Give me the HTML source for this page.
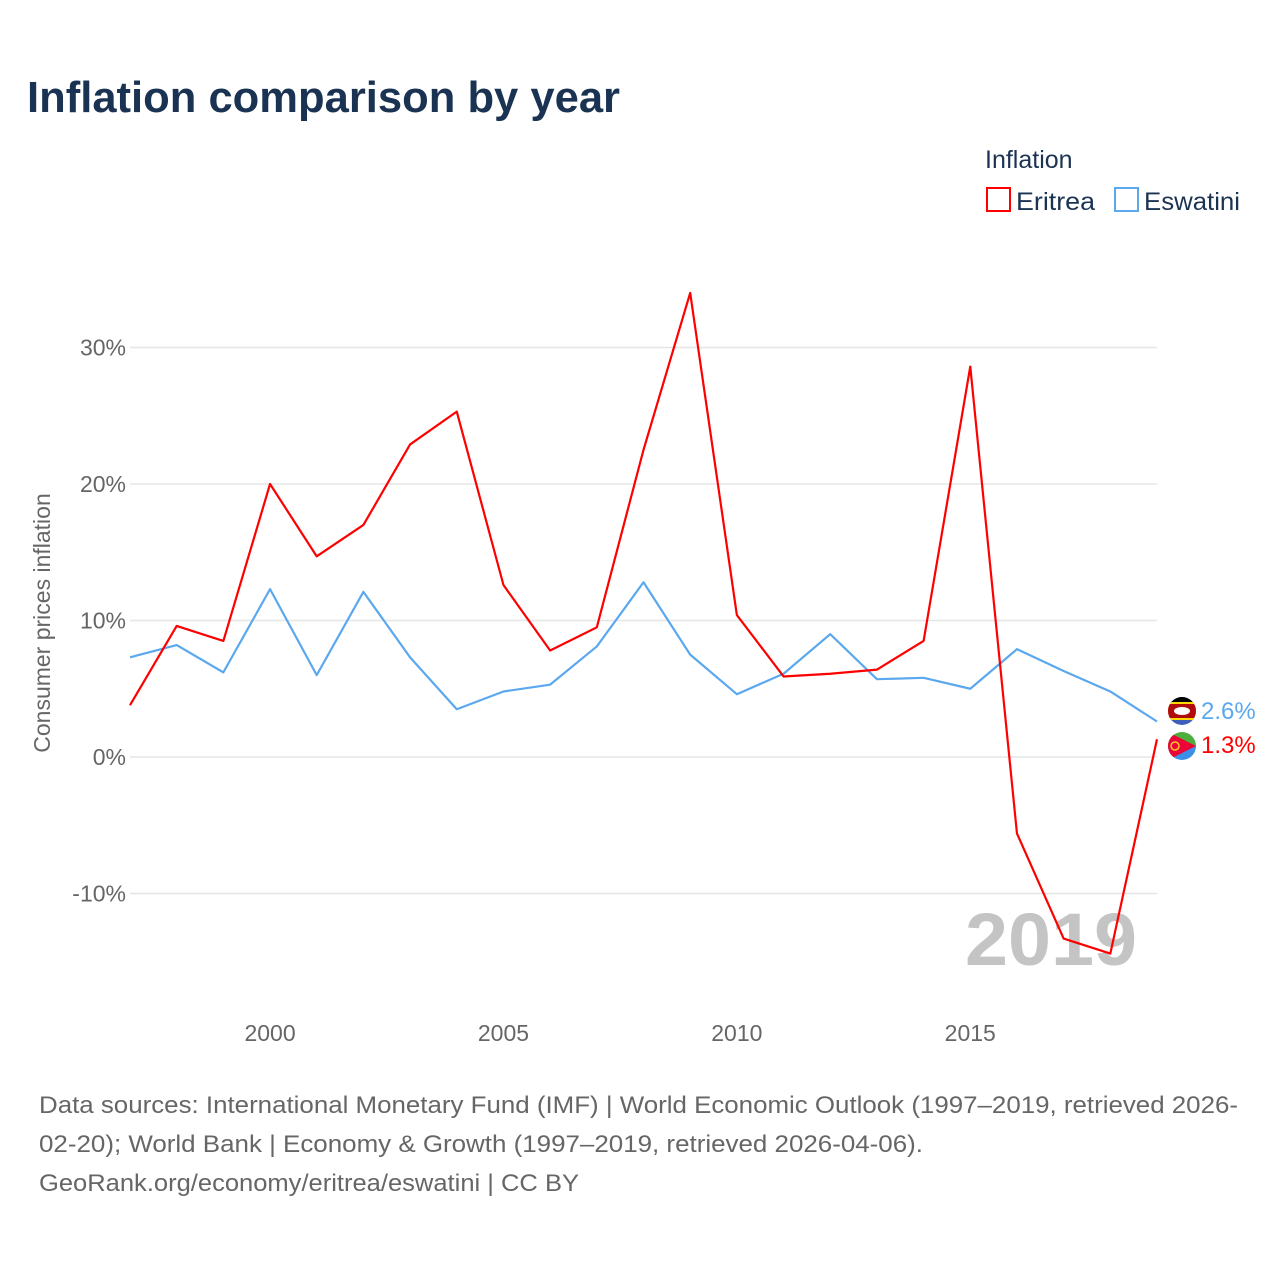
<!DOCTYPE html>
<html><head><meta charset="utf-8">
<style>
body{margin:0;background:#fff;font-family:"Liberation Sans",sans-serif;}
svg text{font-family:"Liberation Sans",sans-serif;}
</style></head>
<body>
<svg width="1280" height="1280" viewBox="0 0 1280 1280" xmlns="http://www.w3.org/2000/svg">
<text x="27" y="112" font-size="44" font-weight="bold" fill="#1b3352" textLength="593" lengthAdjust="spacingAndGlyphs">Inflation comparison by year</text>
<text x="985" y="168" font-size="25" fill="#1b3352">Inflation</text>
<g>
<rect x="987" y="188" width="23" height="23" fill="none" stroke="#ff0000" stroke-width="2"/>
<text x="1016" y="210" font-size="25" fill="#1b3352" textLength="79" lengthAdjust="spacingAndGlyphs">Eritrea</text></g>
<g>
<rect x="1115" y="188" width="23" height="23" fill="none" stroke="#5ba8ee" stroke-width="2"/>
<text x="1144" y="210" font-size="25" fill="#1b3352" textLength="96" lengthAdjust="spacingAndGlyphs">Eswatini</text></g>
<g id="grid"></g>
<text x="1137" y="965" font-size="74" font-weight="bold" fill="#c4c4c4" text-anchor="end" textLength="172" lengthAdjust="spacingAndGlyphs">2019</text>
<g id="plot"></g>
<text transform="translate(50,623) rotate(-90)" font-size="23" fill="#666" text-anchor="middle">Consumer prices inflation</text>
<g>
<clipPath id="c1"><circle cx="1182" cy="711" r="14"/></clipPath>
<g clip-path="url(#c1)"><rect x="1168" y="697" width="28" height="28" fill="#3e5eb9"/><rect x="1168" y="702" width="28" height="18" fill="#ffd900"/><rect x="1168" y="704" width="28" height="14" fill="#b10c0c"/><ellipse cx="1182" cy="711" rx="8" ry="4" fill="#fff"/><rect x="1168" y="697" width="28" height="5" fill="#000"/></g></g>
<g>
<clipPath id="c2"><circle cx="1182" cy="746" r="14"/></clipPath>
<g clip-path="url(#c2)"><rect x="1168" y="732" width="28" height="14" fill="#4caf3c"/><rect x="1168" y="746" width="28" height="14" fill="#3a8fe8"/><polygon points="1168,732 1196,746 1168,760" fill="#ea0437"/><circle cx="1175" cy="746" r="4" fill="none" stroke="#ffc726" stroke-width="1.5"/></g></g>
<text x="1201" y="719" font-size="24" fill="#5ba8ee">2.6%</text>
<text x="1201" y="753" font-size="24" fill="#ff0000">1.3%</text>
<text font-size="24" fill="#666"><tspan x="39" y="1113" textLength="1199" lengthAdjust="spacingAndGlyphs">Data sources: International Monetary Fund (IMF) | World Economic Outlook (1997–2019, retrieved 2026-</tspan><tspan x="39" y="1152" textLength="884" lengthAdjust="spacingAndGlyphs">02-20); World Bank | Economy &amp; Growth (1997–2019, retrieved 2026-04-06).</tspan><tspan x="39" y="1191" textLength="540" lengthAdjust="spacingAndGlyphs">GeoRank.org/economy/eritrea/eswatini | CC BY</tspan></text>
</svg>
<script>
const years=[1997,1998,1999,2000,2001,2002,2003,2004,2005,2006,2007,2008,2009,2010,2011,2012,2013,2014,2015,2016,2017,2018,2019];
const eritrea=[3.8,9.6,8.5,20.0,14.7,17.0,22.9,25.3,12.6,7.8,9.5,22.5,34.0,10.4,5.9,6.1,6.4,8.5,28.6,-5.6,-13.3,-14.4,1.3];
const eswatini=[7.3,8.2,6.2,12.3,6.0,12.1,7.3,3.5,4.8,5.3,8.1,12.8,7.5,4.6,6.1,9.0,5.7,5.8,5.0,7.9,6.3,4.8,2.6];
const yTicks=[-10,0,10,20,30];
const xTicks=[2000,2005,2010,2015];
const NS='http://www.w3.org/2000/svg';
const x=v=>130+(v-1997)*(1157-130)/22;
const y=v=>757-v*13.65;
const grid=document.getElementById('grid'),plot=document.getElementById('plot');
yTicks.forEach(t=>{
 const l=document.createElementNS(NS,'line');
 l.setAttribute('x1',130);l.setAttribute('x2',1157);l.setAttribute('y1',y(t));l.setAttribute('y2',y(t));
 l.setAttribute('stroke','#e6e6e6');l.setAttribute('stroke-width','1.5');
 
 
 grid.appendChild(l);
 const tx=document.createElementNS(NS,'text');
 tx.setAttribute('x',126);tx.setAttribute('y',y(t)+8);tx.setAttribute('text-anchor','end');
 tx.setAttribute('font-size','23');tx.setAttribute('fill','#666');tx.textContent=t+'%';
 
 
 grid.appendChild(tx);
});
xTicks.forEach(t=>{
 const tx=document.createElementNS(NS,'text');
 tx.setAttribute('x',x(t));tx.setAttribute('y',1041);tx.setAttribute('text-anchor','middle');
 tx.setAttribute('font-size','23');tx.setAttribute('fill','#666');tx.textContent=t;
 
 
 grid.appendChild(tx);
});
function line(vals,color,name){
 const p=document.createElementNS(NS,'polyline');
 p.setAttribute('points',vals.map((v,i)=>x(years[i])+','+y(v)).join(' '));
 p.setAttribute('fill','none');p.setAttribute('stroke',color);p.setAttribute('stroke-width','2.2');
 p.setAttribute('stroke-linejoin','round');
 
 
 plot.appendChild(p);
}
line(eswatini,'#5ba8ee','line-eswatini');
line(eritrea,'#ff0000','line-eritrea');
</script>
</body></html>
